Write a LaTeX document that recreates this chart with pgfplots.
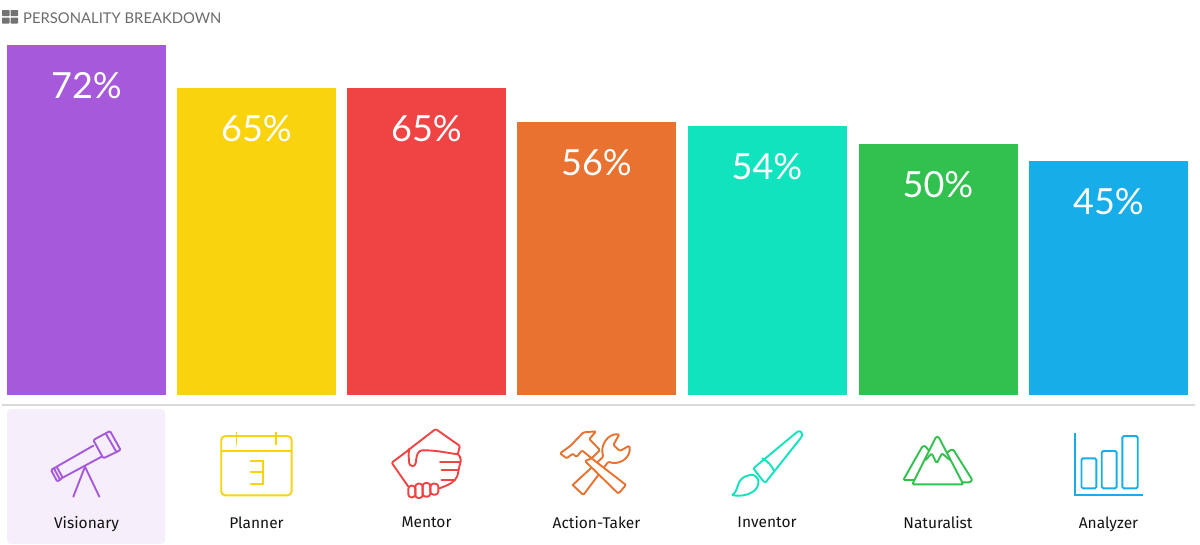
\documentclass[border=0pt]{standalone}
\usepackage{pgfplots}
\pgfplotsset{compat=1.18}
\usepackage{fontspec}
\setmainfont{Lato}
\newfontfamily\lab{Fira Sans}
\definecolor{cA}{HTML}{A65ADB}
\definecolor{cB}{HTML}{F8D30E}
\definecolor{cC}{HTML}{F04444}
\definecolor{cD}{HTML}{E97230}
\definecolor{cE}{HTML}{10E3BE}
\definecolor{cF}{HTML}{32C14F}
\definecolor{cG}{HTML}{17ADE8}
\tikzset{zm/.style 2 args={shift={(#1pt,-#2pt)},x=0.3333pt,y=-0.3333pt,line width=1.9pt,line join=round,line cap=round,rounded corners=1.2pt}}
\begin{document}
\begin{tikzpicture}
\path[use as bounding box] (0,0) rectangle (1200pt,-544pt);
% title
\begin{scope}[x=1pt,y=-1pt]
\fill[fill=black!55,rounded corners=0.6pt] (2,10) rectangle (9.5,16);
\fill[fill=black!55,rounded corners=0.6pt] (10.5,10) rectangle (18,16);
\fill[fill=black!55,rounded corners=0.6pt] (2,17.5) rectangle (9.5,23.5);
\fill[fill=black!55,rounded corners=0.6pt] (10.5,17.5) rectangle (18,23.5);
\node[anchor=west,inner sep=0pt,text=black!58,font=\fontsize{14.8}{18}\selectfont] at (23,18) {PERSONALITY BREAKDOWN};
\fill[fill=cA!10,rounded corners=4pt] (7,409) rectangle (165,544);
\end{scope}
\begin{axis}[
  at={(2pt,-405pt)},anchor=south west,
  scale only axis,width=1193pt,height=405pt,
  xmin=2,xmax=1195,ymin=-10,ymax=395,
  axis x line=bottom,axis y line=none,
  x axis line style={draw=black!15!white,line width=2pt,-},
  ytick=\empty,
  major tick length=0pt,
  xtick={86.5,256.5,426.5,596.5,767,938,1108.5},
  xticklabels={Visionary,Planner,Mentor,Action-Taker,Inventor,Naturalist,Analyzer},
  xticklabel style={font=\lab\fontsize{15.5}{18}\selectfont,text=black!92,yshift=-108pt},
  ybar,bar width=159pt,bar shift=0pt,
  point meta=explicit,
  nodes near coords={\pgfmathprintnumber[fixed,precision=0,assume math mode=true]{\pgfplotspointmeta}\%},
  nodes near coords style={font=\fontsize{36}{40}\selectfont,text=white,anchor=center,yshift=-41pt},
  clip=false,
]
\addplot[fill=cA,draw=none] coordinates {(86.5,350) [72]};
\addplot[fill=cB,draw=none] coordinates {(256.5,307) [65]};
\addplot[fill=cC,draw=none] coordinates {(426.5,307) [65]};
\addplot[fill=cD,draw=none] coordinates {(596.5,273) [56]};
\addplot[fill=cE,draw=none] coordinates {(767,269) [54]};
\addplot[fill=cF,draw=none] coordinates {(938,251) [50]};
\addplot[fill=cG,draw=none] coordinates {(1108.5,234) [45]};
\end{axis}
% telescope
\begin{scope}[zm={40}{425},draw=cA]
\draw (33,135)--(50,125)--(68,158)--(52,170)--cycle;
\draw (42,130)--(60,164);
\draw (50,125)--(160,62);
\draw (68,158)--(185,95);
\draw (160,45)--(210,18)--(242,75)--(190,100)--cycle;
\draw (197,25)--(230,82);
\draw (135,125)--(100,215);
\draw (135,125)--(178,215);
\end{scope}
% calendar
\begin{scope}[shift={(0pt,-390pt)},x=0.3827pt,y=-0.3333pt,line width=1.9pt,line cap=round,draw=cB]
\draw[rounded corners=4pt] (578,138) rectangle (762,316);
\draw (578,183)--(762,183);
\draw (618,128)--(618,163);
\draw (722,128)--(722,163);
\draw[line width=1.7pt] (655,212)--(688,212)--(688,282)--(655,282);
\draw[line width=1.7pt] (655,247)--(688,247);
\end{scope}
% handshake
\begin{scope}[zm={385}{425},draw=cC]
\draw (70,185)--(20,113)--(75,72);
\draw (70,75)--(152,12)--(225,63)--(218,88) .. controls (228,95) and (228,110) .. (224,120)--(218,150) .. controls (210,172) and (190,180) .. (163,190);
\draw (218,88) .. controls (180,82) and (150,76) .. (115,76) .. controls (100,76) and (95,90) .. (93,108) .. controls (92,128) and (72,128) .. (72,105) .. controls (70,90) and (72,78) .. (72,72);
\draw (165,112)--(224,112);
\draw (170,136)--(220,136);
\draw (170,165)--(208,165);
\draw[rounded corners=3pt] (70,182) rectangle (91,217);
\draw[rounded corners=3pt] (91,176) rectangle (113,219);
\draw[rounded corners=3pt] (113,174) rectangle (136,215);
\draw[rounded corners=3pt] (136,176) rectangle (160,209);
\end{scope}
% wrench and hammer
\begin{scope}[zm={550}{425},draw=cD]
\draw (68,180)--(100,210)--(175,110) .. controls (205,122) and (245,100) .. (238,62)--(210,78)--(190,60)--(208,28) .. controls (170,25) and (150,65) .. (160,95)--(68,180);
\filldraw[fill=white] (125,100)--(228,180)--(205,206)--(105,108)--(125,100);
\filldraw[fill=white] (30,85)--(62,62)--(100,22)--(138,19)--(118,42)--(150,75)--(125,100)--(96,76)--(80,96)--(68,86)--(50,100)--cycle;
\end{scope}
% brush
\begin{scope}[zm={725}{425},draw=cE]
\draw (85,130)--(215,22) .. controls (225,15) and (236,25) .. (228,38)--(125,168) .. controls (122,172) and (117,170) .. (113,166)--cycle;
\draw (112,100) .. controls (130,110) and (140,122) .. (146,136);
\draw (22,210) .. controls (45,195) and (30,160) .. (75,150) .. controls (90,148) and (100,160) .. (100,172) .. controls (98,205) and (50,218) .. (22,210);
\end{scope}
% mountains
\begin{scope}[zm={895}{425},draw=cF]
\draw (52,178)--(120,42) .. controls (124,34) and (130,34) .. (134,42)--(205,178)--cycle;
\draw (92,105)--(110,85)--(125,115)--(141,85)--(165,105);
\draw (55,165)--(25,165)--(80,68) .. controls (85,60) and (92,62) .. (100,75);
\draw (155,85) .. controls (165,72) and (175,72) .. (180,82)--(232,165)--(225,172)--(200,172);
\end{scope}
% analyzer
\begin{scope}[shift={(600pt,-390pt)},x=0.3827pt,y=-0.3333pt,line width=1.9pt,draw=cG]
\draw (1240,128)--(1240,315)--(1420,315);
\draw[rounded corners=1.5pt] (1258,205) rectangle (1297,295);
\draw[rounded corners=1.5pt] (1311,183) rectangle (1350,295);
\draw[rounded corners=1.5pt] (1365,138) rectangle (1405,295);
\end{scope}
\end{tikzpicture}
\end{document}
